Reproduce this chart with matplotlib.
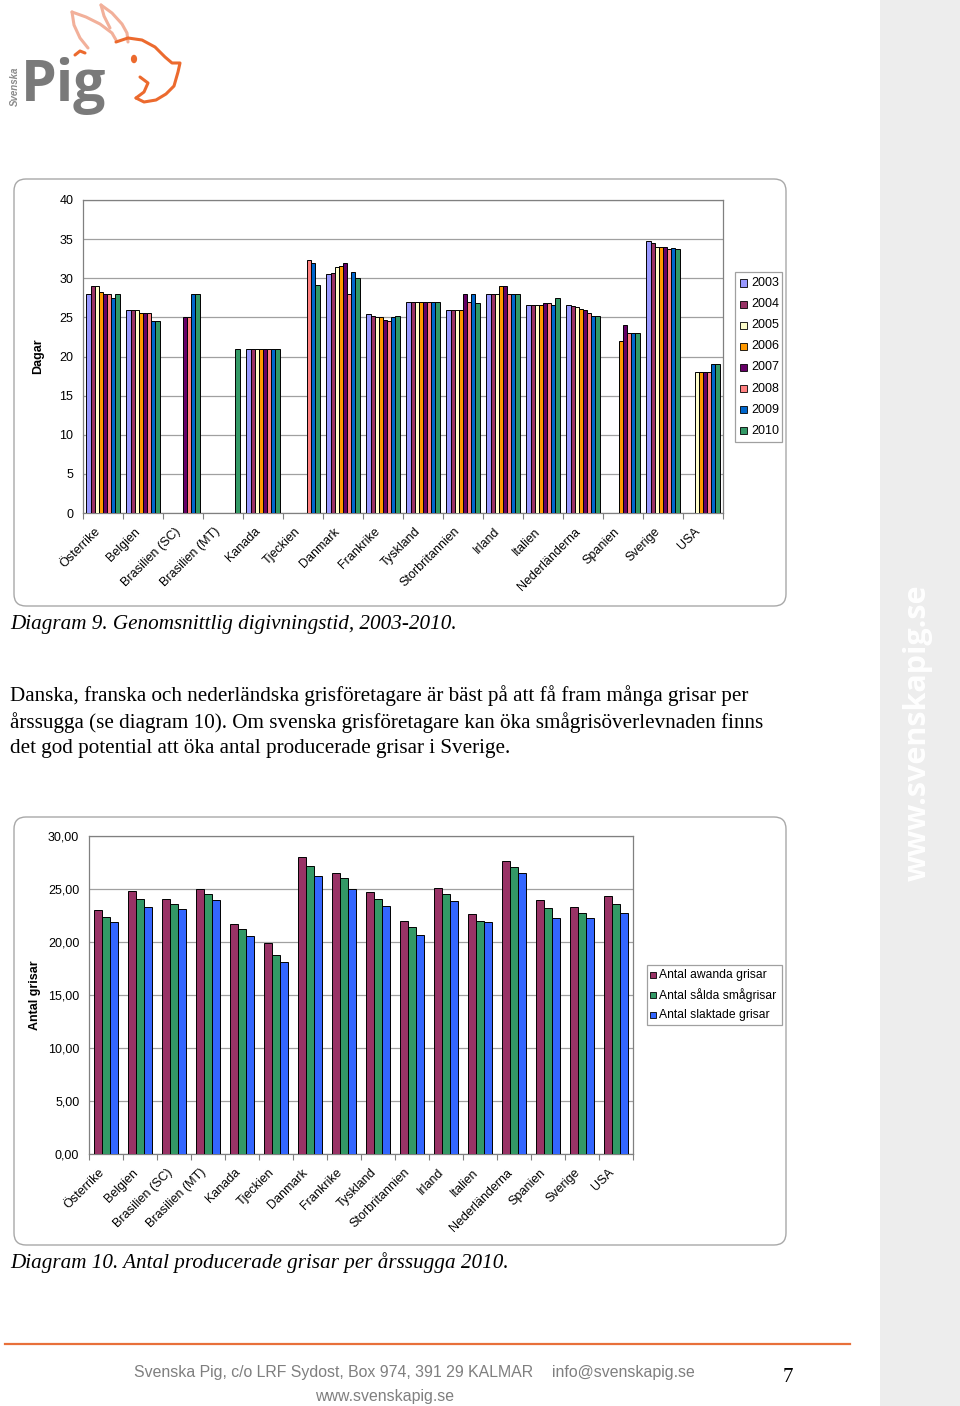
import numpy as np
import matplotlib
matplotlib.use("Agg")
import matplotlib.pyplot as plt
from matplotlib.patches import FancyBboxPatch, Rectangle
from matplotlib.lines import Line2D
from matplotlib.transforms import IdentityTransform, ScaledTranslation

nan = np.nan

# ---------------- data ----------------
countries = ["Österrike", "Belgien", "Brasilien (SC)", "Brasilien (MT)", "Kanada",
             "Tjeckien", "Danmark", "Frankrike", "Tyskland", "Storbritannien",
             "Irland", "Italien", "Nederländerna", "Spanien", "Sverige", "USA"]

years = ["2003", "2004", "2005", "2006", "2007", "2008", "2009", "2010"]
y2003 = [28.0, 26.0, nan, nan, 21.0, nan, 30.5, 25.4, 27.0, 26.0, 28.0, 26.6, 26.6, nan, 34.7, nan]
y2004 = [29.0, 26.0, nan, nan, 21.0, nan, 30.7, 25.2, 27.0, 26.0, 28.0, 26.6, 26.5, nan, 34.5, nan]
y2005 = [29.0, 26.0, nan, nan, 21.0, nan, 31.4, 25.0, 27.0, 26.0, 28.0, 26.6, 26.3, nan, 34.0, 18.0]
y2006 = [28.2, 25.5, nan, nan, 21.0, nan, 31.6, 25.0, 27.0, 26.0, 29.0, 26.6, 26.1, 22.0, 34.0, 18.0]
y2007 = [28.0, 25.5, 25.0, nan, 21.0, nan, 31.9, 24.7, 27.0, 28.0, 29.0, 26.9, 25.9, 24.0, 34.0, 18.0]
y2008 = [28.0, 25.5, 25.0, nan, 21.0, 32.3, 28.0, 24.6, 27.0, 27.0, 28.0, 26.9, 25.5, 23.0, 33.8, 18.0]
y2009 = [27.5, 24.5, 28.0, nan, 21.0, 32.0, 30.8, 25.0, 27.0, 28.0, 28.0, 26.6, 25.2, 23.0, 33.9, 19.0]
y2010 = [28.0, 24.5, 28.0, 21.0, 21.0, 29.1, 30.0, 25.2, 27.0, 26.8, 28.0, 27.5, 25.2, 23.0, 33.8, 19.0]
top_series = [y2003, y2004, y2005, y2006, y2007, y2008, y2009, y2010]
top_colors = ["#9999FF", "#993366", "#FFFFCC", "#FF9900", "#660066", "#FF8080", "#0066CC", "#339966"]
top_yticks = [0, 5, 10, 15, 20, 25, 30, 35, 40]

bottom_labels = ["Antal awanda grisar", "Antal sålda smågrisar", "Antal slaktade grisar"]
awanda = [23.0, 24.8, 24.1, 25.0, 21.7, 19.9, 28.05, 26.5, 24.75, 21.95, 25.1, 22.6, 27.6, 24.0, 23.3, 24.3]
salda = [22.4, 24.1, 23.6, 24.5, 21.2, 18.8, 27.2, 26.0, 24.1, 21.4, 24.5, 21.95, 27.1, 23.2, 22.7, 23.6]
slaktade = [21.9, 23.3, 23.1, 24.0, 20.6, 18.1, 26.2, 25.0, 23.4, 20.7, 23.9, 21.85, 26.5, 22.3, 22.3, 22.7]
bottom_series = [awanda, salda, slaktade]
bottom_colors = ["#993366", "#339966", "#3366FF"]
bottom_yticks = [0, 5, 10, 15, 20, 25, 30]

# ---------------- figure ----------------
W, H = 960, 1406
fig = plt.figure(figsize=(W / 100, H / 100), dpi=100)
fig.patch.set_facecolor("white")
SANS = ["Liberation Sans", "DejaVu Sans"]
SERIF = ["Liberation Serif", "DejaVu Serif"]
ident = IdentityTransform()
TICK_FS = 9


def fx(x):
    return x / W


def fy(y):
    return 1 - y / H


def rbox(x0, y0, x1, y1, r=12, ec="#A8A8A8"):
    p = FancyBboxPatch((x0, H - y1), x1 - x0, y1 - y0,
                       boxstyle=f"round,pad=0,rounding_size={r}",
                       transform=ident, fc="white", ec=ec, lw=1.0, zorder=0)
    fig.add_artist(p)


# right gray band with watermark
fig.add_artist(Rectangle((fx(880), 0), fx(960) - fx(880), 1, transform=fig.transFigure,
                         fc="#EDEDED", ec="none", zorder=-5))
fig.text(fx(918), fy(733), "www.svenskapig.se", rotation=90, ha="center", va="center",
         color="white", fontsize=22, fontweight="bold", family=["Open Sans", "DejaVu Sans"])

# ---------------- logo ----------------
fig.text(fx(21), fy(101), "Pig", fontsize=41, fontweight="bold", color="#7A7A7A",
         family=["Open Sans", "DejaVu Sans"], ha="left", va="baseline")
fig.text(fx(15), fy(86), "Svenska", rotation=90, fontsize=7, fontstyle="italic",
         fontweight="bold", color="#8A8A8A", ha="center", va="center", family=SANS)


def pline(pts, color, lw=2.2):
    xs = [fx(p[0]) for p in pts]
    ys = [fy(p[1]) for p in pts]
    fig.add_artist(Line2D(xs, ys, transform=fig.transFigure, color=color, lw=lw,
                          solid_capstyle="round", solid_joinstyle="round"))


salmon = "#F2B09A"
orange = "#EC6A2E"
pline([(72, 12), (86, 17), (100, 24), (112, 33), (116, 40)], salmon)
pline([(72, 12), (74, 25), (80, 38), (88, 48)], salmon)
pline([(101, 5), (112, 13), (122, 24), (127, 33), (128, 42)], salmon)
pline([(101, 5), (104, 16), (110, 28)], salmon)
pline([(75, 55), (80, 51), (85, 53)], orange)
pline([(116, 42), (128, 38), (142, 40), (155, 47), (165, 57), (172, 63), (180, 63),
       (178, 72), (174, 86), (166, 94), (156, 100), (144, 102), (136, 98)], orange)
pline([(140, 77), (148, 83), (144, 92), (136, 98)], orange)
fig.add_artist(plt.Circle((fx(134), fy(59)), 0.0025, transform=fig.transFigure, color=orange))


def style_axis(ax, ylabels, xshift_px):
    ax.set_xlim(0, n)
    ax.yaxis.grid(True, color="#A0A0A0", lw=0.9, zorder=0)
    ax.set_axisbelow(True)
    ax.set_xticks(np.arange(n + 1))
    ax.set_xticklabels([])
    ax.set_xticks(x + 0.5, minor=True)
    ax.set_xticklabels(countries, minor=True, rotation=45, ha="right", rotation_mode="anchor",
                       family=SANS, fontsize=TICK_FS)
    ax.tick_params(axis="x", which="major", length=4, color="#808080", direction="out")
    ax.tick_params(axis="x", which="minor", length=0, pad=9)
    ax.tick_params(axis="y", length=0, pad=7)
    for lab in ax.get_xticklabels(minor=True):
        lab.set_transform(lab.get_transform() +
                          ScaledTranslation(xshift_px / 100, 0, fig.dpi_scale_trans))
    for s in ax.spines.values():
        s.set_color("#808080")
        s.set_linewidth(0.9)


# ---------------- top chart ----------------
rbox(14, 179, 786, 606)
ax1 = fig.add_axes([fx(83), fy(513), fx(723) - fx(83), (513 - 200) / H])
n = len(countries)
nb = len(top_series)
bw = 0.83 / nb
x = np.arange(n)
for i, (vals, col) in enumerate(zip(top_series, top_colors)):
    off = -0.415 + bw * (i + 0.5)
    ax1.bar(x + 0.5 + off, vals, width=bw, color=col, edgecolor="black", linewidth=0.7,
            zorder=3, label=years[i])
ax1.set_ylim(0, 40)
ax1.set_yticks(top_yticks)
ax1.set_yticklabels([str(v) for v in top_yticks], family=SANS, fontsize=TICK_FS)
style_axis(ax1, top_yticks, -9)
fig.text(fx(38), fy(356), "Dagar", rotation=90, ha="center", va="center",
         fontsize=9, fontweight="bold", family=SANS)

# legend top (manual)
fig.add_artist(Rectangle((fx(735), fy(442)), fx(782) - fx(735), (442 - 272) / H,
                         transform=fig.transFigure, fc="white", ec="#A0A0A0", lw=0.9))
for i, (yr, col) in enumerate(zip(years, top_colors)):
    yy = 283 + 21.1 * i
    fig.add_artist(Rectangle((fx(740), fy(yy + 3.5)), 7 / W, 7 / H, transform=fig.transFigure,
                             fc=col, ec="black", lw=0.6))
    fig.text(fx(751), fy(yy), yr, ha="left", va="center", fontsize=9, family=SANS)

fig.text(fx(10), fy(625), "Diagram 9. Genomsnittlig digivningstid, 2003-2010.",
         ha="left", va="center", fontsize=15.2, fontstyle="italic", family=SERIF)

para = ["Danska, franska och nederländska grisföretagare är bäst på att få fram många grisar per",
        "årssugga (se diagram 10). Om svenska grisföretagare kan öka smågrisöverlevnaden finns",
        "det god potential att öka antal producerade grisar i Sverige."]
for i, line in enumerate(para):
    fig.text(fx(10), fy(696 + 26.5 * i), line, ha="left", va="center", fontsize=15.2, family=SERIF)

# ---------------- bottom chart ----------------
rbox(14, 817, 786, 1245)
ax2 = fig.add_axes([fx(89), fy(1154), fx(633) - fx(89), (1154 - 836) / H])
nb2 = len(bottom_series)
bw2 = 0.229
for i, (vals, col) in enumerate(zip(bottom_series, bottom_colors)):
    off = -bw2 * nb2 / 2 + bw2 * (i + 0.5)
    ax2.bar(x + 0.5 + off, vals, width=bw2, color=col, edgecolor="black", linewidth=0.7,
            zorder=3, label=bottom_labels[i])
ax2.set_ylim(0, 30)
ax2.set_yticks(bottom_yticks)
ax2.set_yticklabels([f"{v:.2f}".replace(".", ",") for v in bottom_yticks], family=SANS,
                    fontsize=TICK_FS)
style_axis(ax2, bottom_yticks, -8)
fig.text(fx(35), fy(995), "Antal grisar", rotation=90, ha="center", va="center",
         fontsize=9, fontweight="bold", family=SANS)

fig.add_artist(Rectangle((fx(647), fy(1025)), fx(782) - fx(647), (1025 - 965) / H,
                         transform=fig.transFigure, fc="white", ec="#A0A0A0", lw=0.9))
for i, (lab, col) in enumerate(zip(bottom_labels, bottom_colors)):
    yy = 975 + 20 * i
    fig.add_artist(Rectangle((fx(650), fy(yy + 3)), 6 / W, 6 / H, transform=fig.transFigure,
                             fc=col, ec="black", lw=0.6))
    fig.text(fx(659), fy(yy), lab, ha="left", va="center", fontsize=8.7, family=SANS)

fig.text(fx(10), fy(1263), "Diagram 10. Antal producerade grisar per årssugga 2010.",
         ha="left", va="center", fontsize=15.2, fontstyle="italic", family=SERIF)

# ---------------- footer ----------------
fig.add_artist(Line2D([fx(5), fx(850)], [fy(1344), fy(1344)], transform=fig.transFigure,
                      color="#E8703A", lw=1.6))
fig.text(fx(134), fy(1373), "Svenska Pig, c/o LRF Sydost, Box 974, 391 29 KALMAR",
         ha="left", va="center", fontsize=11.4, color="#7F7F7F", family=SANS)
fig.text(fx(552), fy(1373), "info@svenskapig.se", ha="left", va="center", fontsize=11.4,
         color="#7F7F7F", family=SANS)
fig.text(fx(385), fy(1396), "www.svenskapig.se", ha="center", va="center", fontsize=11.4,
         color="#7F7F7F", family=SANS)
fig.text(fx(788), fy(1377), "7", ha="center", va="center", fontsize=15, family=SERIF)

fig.savefig("out.png", dpi=100, facecolor="white")
